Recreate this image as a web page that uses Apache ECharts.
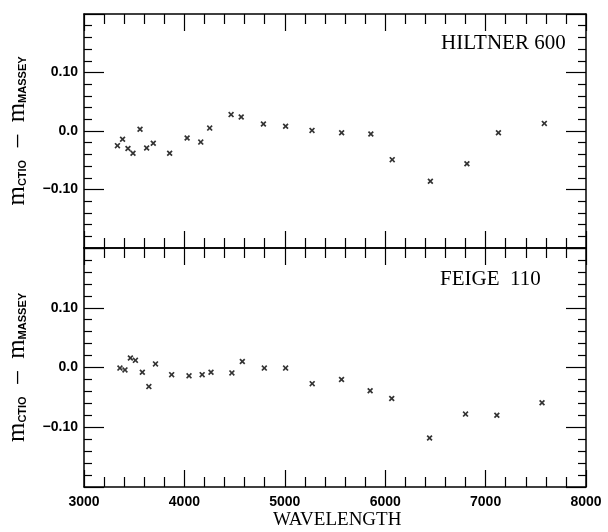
<!DOCTYPE html>
<html>
<head>
<meta charset="utf-8">
<script src="https://cdn.jsdelivr.net/npm/echarts@6/dist/echarts.min.js"></script>
<style>
  html, body { margin: 0; padding: 0; background: #fff; }
  #main { width: 608px; height: 532px; }
</style>
</head>
<body>
<div id="main"></div>
<script>
// HILTNER 600 (top panel)
const hiltnerWave = [3333, 3384, 3438, 3488, 3558, 3624, 3690, 3853, 4027, 4163, 4252, 4465, 4566, 4787, 5008, 5271, 5566, 5857, 6070, 6450, 6814, 7128, 7585];
const hiltnerDiff = [-0.025, -0.014, -0.030, -0.038, 0.003, -0.029, -0.021, -0.038, -0.012, -0.019, 0.005, 0.028, 0.024, 0.012, 0.008, 0.001, -0.003, -0.005, -0.049, -0.086, -0.056, -0.003, 0.013];
// FEIGE 110 (bottom panel)
const feigeWave = [3358, 3408, 3462, 3512, 3581, 3646, 3712, 3873, 4046, 4177, 4265, 4473, 4577, 4796, 5008, 5273, 5565, 5850, 6065, 6442, 6800, 7112, 7562];
const feigeDiff = [-0.001, -0.004, 0.016, 0.012, -0.008, -0.032, 0.006, -0.012, -0.014, -0.012, -0.008, -0.009, 0.010, -0.001, -0.001, -0.027, -0.020, -0.039, -0.052, -0.118, -0.078, -0.080, -0.059];

const panelNames = ['HILTNER 600', 'FEIGE  110'];

// a bold little "x"
const crossSymbol = 'path://M0,2L2,0L5,3L8,0L10,2L7,5L10,8L8,10L5,7L2,10L0,8L3,5Z';

const chart = echarts.init(document.getElementById('main'));

function xAxisFor(gridIndex, position, showLabel) {
  return {
    type: 'value', gridIndex: gridIndex, position: position,
    min: 3000, max: 8000, interval: 1000,
    axisLine: { show: true, onZero: false, lineStyle: { color: '#000', width: 1.5 } },
    axisTick: { show: true, inside: true, length: 17, lineStyle: { color: '#000', width: 1.2 } },
    minorTick: { show: true, splitNumber: 5, length: 10, lineStyle: { color: '#000', width: 1.2 } },
    axisLabel: {
      show: showLabel, margin: 8, color: '#000',
      fontFamily: 'Liberation Sans', fontWeight: 'bold', fontSize: 14,
      showMinLabel: true, showMaxLabel: true,
      formatter: (v) => String(v)
    },
    splitLine: { show: false }
  };
}

function yLabel(v) {
  if (Math.abs(v) < 1e-9) return '0.0';
  if (Math.abs(Math.abs(v) - 0.1) < 1e-9) return v > 0 ? '0.10' : '\u22120.10';
  return '';
}

function yAxisFor(gridIndex, position, showLabel) {
  const ax = {
    type: 'value', gridIndex: gridIndex, position: position,
    min: -0.2, max: 0.2, interval: 0.1,
    axisLine: { show: true, onZero: false, lineStyle: { color: '#000', width: 1.5 } },
    axisTick: { show: true, inside: true, length: 20, lineStyle: { color: '#000', width: 1.2 } },
    minorTick: { show: true, splitNumber: 5, length: 8, lineStyle: { color: '#000', width: 1.2 } },
    axisLabel: {
      show: showLabel, margin: 6, color: '#000',
      fontFamily: 'Liberation Sans', fontWeight: 'bold', fontSize: 14,
      formatter: yLabel
    },
    splitLine: { show: false }
  };
  if (showLabel) {
    ax.name = '{m|m}{s|CTIO}{m|  \u2013  m}{s|MASSEY}';
    ax.nameLocation = 'middle';
    ax.nameRotate = 90;
    ax.nameGap = 54;
    ax.nameTextStyle = {
      rich: {
        m: { fontFamily: 'Liberation Serif', fontSize: 25, color: '#000' },
        s: { fontFamily: 'Liberation Sans', fontWeight: 'bold', fontSize: 11, color: '#000', padding: [10, 0, 0, 0] }
      }
    };
  }
  return ax;
}

const option = {
  backgroundColor: '#fff',
  animation: false,
  grid: [
    { left: 84, right: 22, top: 14, height: 234, outerBoundsMode: 'none' },
    { left: 84, right: 22, top: 248, height: 239, outerBoundsMode: 'none' }
  ],
  xAxis: [
    xAxisFor(0, 'bottom', false),
    xAxisFor(0, 'top', false),
    xAxisFor(1, 'bottom', true),
    xAxisFor(1, 'top', false)
  ],
  yAxis: [
    yAxisFor(0, 'left', true),
    yAxisFor(0, 'right', false),
    yAxisFor(1, 'left', true),
    yAxisFor(1, 'right', false)
  ],
  graphic: [
    { type: 'text', left: 441, top: 33, style: { text: panelNames[0], font: '21px "Liberation Serif"', fill: '#000' } },
    { type: 'text', left: 440, top: 269, style: { text: panelNames[1], font: '21px "Liberation Serif"', fill: '#000' } },
    { type: 'text', left: 273, top: 511, style: { text: 'WAVELENGTH', font: '19px "Liberation Serif"', fill: '#000' } }
  ],
  series: [
    {
      type: 'scatter', xAxisIndex: 0, yAxisIndex: 0,
      data: hiltnerWave.map((w, i) => [w, hiltnerDiff[i]]),
      symbol: crossSymbol, symbolSize: 6,
      itemStyle: { color: '#000' }
    },
    {
      type: 'scatter', xAxisIndex: 2, yAxisIndex: 2,
      data: feigeWave.map((w, i) => [w, feigeDiff[i]]),
      symbol: crossSymbol, symbolSize: 6,
      itemStyle: { color: '#000' }
    }
  ]
};

chart.setOption(option);
</script>
</body>
</html>
